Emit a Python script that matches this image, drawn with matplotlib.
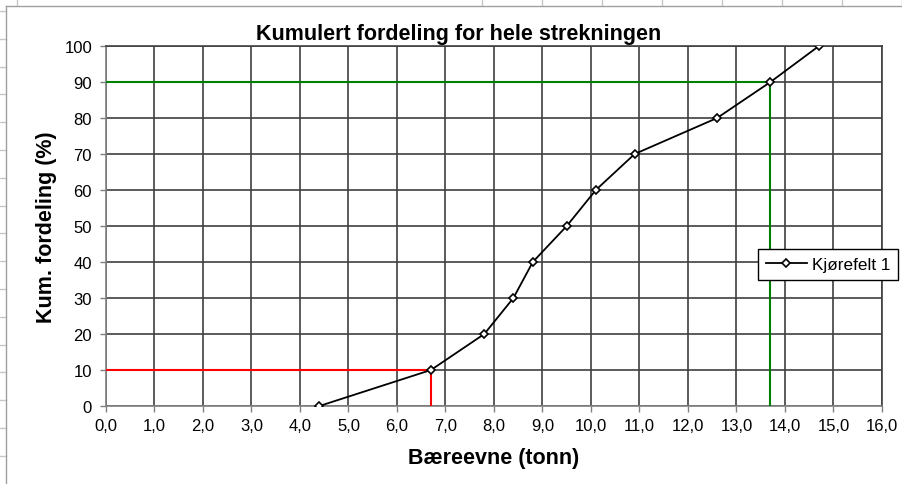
import matplotlib
matplotlib.use('Agg')
import matplotlib.pyplot as plt
from matplotlib.lines import Line2D
from matplotlib.ticker import FuncFormatter, MultipleLocator

plt.rcParams['font.family'] = ['Liberation Sans', 'DejaVu Sans']

# cumulative distribution, lane 1
baereevne = [4.4, 6.7, 7.8, 8.4, 8.8, 9.5, 10.1, 10.9, 12.6, 13.7, 14.7]
kum_fordeling = [0, 10, 20, 30, 40, 50, 60, 70, 80, 90, 100]
serie_navn = 'Kjørefelt 1'

# 10 % and 90 % reference values
p10_x, p10_y = 6.7, 10
p90_x, p90_y = 13.7, 90

fig = plt.figure(figsize=(9.03, 4.85), dpi=100)
ax = fig.add_axes([106 / 903, 78 / 485, 776 / 903, 360 / 485])

# spreadsheet cells peeking out behind the chart
cell_col = '#c8c8c8'
for px in [17, 482, 542, 602, 662, 722, 782, 842, 902]:
    fig.add_artist(Line2D([px / 903, px / 903], [1, 1 - 6 / 485], color=cell_col, lw=1))
for k in range(17):
    py = 12 + k * 27.8
    fig.add_artist(Line2D([0, 6 / 903], [1 - py / 485, 1 - py / 485], color=cell_col, lw=1))
fig.add_artist(Line2D([6 / 903, 6 / 903], [0, 1 - 7 / 485], color='#a0a0a0', lw=1))
fig.add_artist(Line2D([6 / 903, 1], [1 - 7 / 485, 1 - 7 / 485], color='#a0a0a0', lw=1))

ax.plot([0, p10_x, p10_x], [p10_y, p10_y, 0], color='#ff0000', lw=1.5, zorder=3)
ax.plot([0, p90_x, p90_x], [p90_y, p90_y, 0], color='#008000', lw=1.5, zorder=3)

ax.plot(baereevne, kum_fordeling, color='black', lw=1.3, marker='D', ms=4.5,
        mfc='white', mec='black', mew=1.2, label=serie_navn, zorder=4)

ax.set_xlim(0, 16)
ax.set_ylim(0, 100)
ax.xaxis.set_major_locator(MultipleLocator(1))
ax.yaxis.set_major_locator(MultipleLocator(10))
ax.xaxis.set_major_formatter(FuncFormatter(lambda v, p: f'{v:.1f}'.replace('.', ',')))
ax.yaxis.set_major_formatter(FuncFormatter(lambda v, p: f'{v:.0f}'))

ax.grid(True, color='#404040', lw=1.2)
ax.set_axisbelow(True)
for s in ax.spines.values():
    s.set_color('#808080')
    s.set_linewidth(1.2)
ax.spines['top'].set_color('#404040')
ax.spines['right'].set_color('#404040')
ax.tick_params(direction='out', length=4, width=1, color='#808080', labelsize=12)
ax.tick_params(axis='y', pad=6)
ax.tick_params(axis='x', pad=5)

ax.set_title('Kumulert fordeling for hele strekningen', fontsize=15.5,
             fontweight='bold', pad=5, x=0.455)
ax.set_xlabel('Bæreevne (tonn)', fontsize=15.5, fontweight='bold', labelpad=10)
ax.set_ylabel('Kum. fordeling (%)', fontsize=15.5, fontweight='bold', labelpad=5)

leg = fig.legend(loc='center left', bbox_to_anchor=(758 / 903, 1 - 265.5 / 485),
                 fontsize=12.3, frameon=True, fancybox=False, shadow=False,
                 borderaxespad=0, borderpad=0.45, handlelength=2.4,
                 handletextpad=0.3)
leg.get_frame().set_edgecolor('black')
leg.get_frame().set_linewidth(1)
leg.get_frame().set_alpha(1)

fig.savefig('out.png', dpi=100)
